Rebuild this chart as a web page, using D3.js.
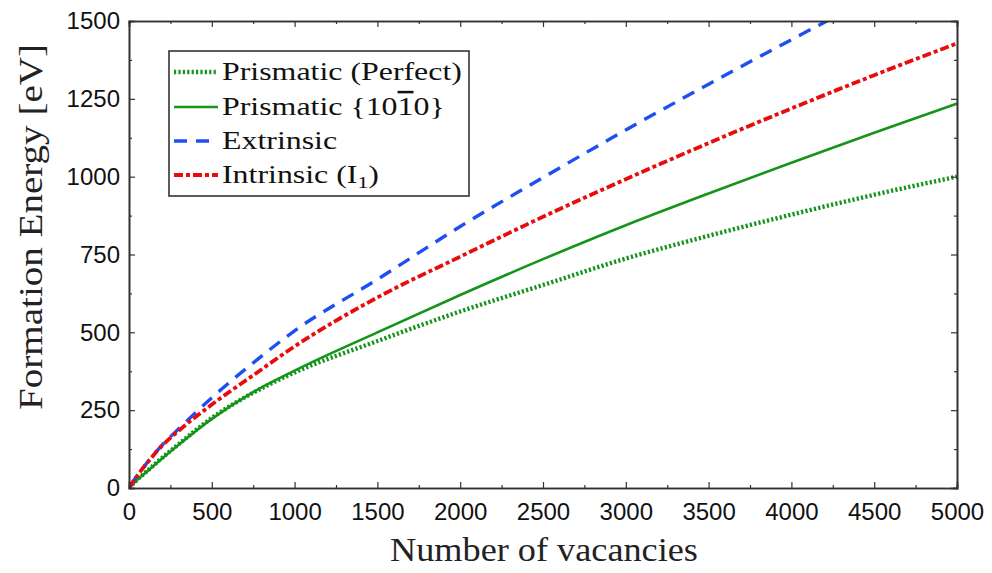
<!DOCTYPE html>
<html>
<head>
<meta charset="utf-8">
<script src="https://cdn.jsdelivr.net/npm/d3@7"></script>
<style>
  html, body { margin: 0; padding: 0; background: #fff; }
  svg { display: block; }
  .tick-label { font-family: "Liberation Sans", Arial, sans-serif; font-size: 24px; fill: #111; }
  .axis-title { font-family: "Liberation Serif", "DejaVu Serif", serif; font-size: 34px; fill: #222; }
  .legend-text { font-family: "Liberation Serif", "DejaVu Serif", serif; font-size: 25px; fill: #111; }
</style>
</head>
<body>
<svg id="chart" width="992" height="573"></svg>
<script>
// Number of vacancies sampled for every curve
const vacancies = [0, 50, 100, 200, 300, 500, 750, 1000, 1500, 2000, 2500, 3000, 3500, 4000, 4500, 5000];

// Formation energies [eV]
const prismaticPerfect = [0, 27, 50, 97, 141, 225, 306, 371, 472, 567, 652, 737, 810, 878, 942, 1000];
const prismatic1010    = [0, 26, 49, 95, 139, 222, 308, 377, 500, 620, 735, 844, 946, 1045, 1141, 1235];
const extrinsic        = [0, 40, 75, 138, 190, 290, 402, 505, 670, 840, 997, 1150, 1297, 1440, 1579, 1714];
const intrinsic        = [0, 40, 74, 136, 184, 268, 362, 455, 612, 743, 871, 992, 1108, 1219, 1326, 1428];

const xTicks = [0, 500, 1000, 1500, 2000, 2500, 3000, 3500, 4000, 4500, 5000];
const yTicks = [0, 250, 500, 750, 1000, 1250, 1500];
const xMinor = [250, 750, 1250, 1750, 2250, 2750, 3250, 3750, 4250, 4750];
const yMinor = [125, 375, 625, 875, 1125, 1375];

(function () {
  const svg = d3.select("#chart");
  const plotLeft = 129, plotRight = 957, plotTop = 21, plotBottom = 488;

  const x = d3.scaleLinear().domain([0, 5000]).range([plotLeft, plotRight]);
  const y = d3.scaleLinear().domain([0, 1500]).range([plotBottom, plotTop]);

  svg.append("defs").append("clipPath").attr("id", "plot-clip")
    .append("rect").attr("x", plotLeft).attr("y", plotTop)
    .attr("width", plotRight - plotLeft).attr("height", plotBottom - plotTop);

  const styles = [
    { values: prismaticPerfect, color: "#15941a", width: 4.4, dash: "2.2,2.2" },
    { values: prismatic1010,    color: "#15941a", width: 2.6, dash: null },
    { values: extrinsic,        color: "#1f4ff0", width: 3.4, dash: "13,9" },
    { values: intrinsic,        color: "#e80c0c", width: 3.8, dash: "9,3,4,3" }
  ];

  const line = d3.line()
    .x((d, i) => x(vacancies[i]))
    .y(d => y(d))
    .curve(d3.curveMonotoneX);

  const plot = svg.append("g").attr("clip-path", "url(#plot-clip)");
  styles.forEach(s => {
    plot.append("path")
      .datum(s.values)
      .attr("fill", "none")
      .attr("stroke", s.color)
      .attr("stroke-width", s.width)
      .attr("stroke-dasharray", s.dash)
      .attr("d", line);
  });

  // Axes: ticks pointing inward on all four sides, labels on bottom and left
  const axisColor = "#333";
  const bottomAxis = d3.axisBottom(x).tickValues(xTicks).tickSize(-6).tickPadding(15).tickFormat(d3.format("d"));
  const bottomMinor = d3.axisBottom(x).tickValues(xMinor).tickSize(-3).tickFormat("");
  const topAxis = d3.axisTop(x).tickValues(xTicks).tickSize(-6).tickFormat("");
  const topMinor = d3.axisTop(x).tickValues(xMinor).tickSize(-3).tickFormat("");
  const leftAxis = d3.axisLeft(y).tickValues(yTicks).tickSize(-6).tickPadding(9).tickFormat(d3.format("d"));
  const leftMinor = d3.axisLeft(y).tickValues(yMinor).tickSize(-3).tickFormat("");
  const rightAxis = d3.axisRight(y).tickValues(yTicks).tickSize(-6).tickFormat("");
  const rightMinor = d3.axisRight(y).tickValues(yMinor).tickSize(-3).tickFormat("");

  function drawAxis(gen, tx, ty) {
    const g = svg.append("g").attr("transform", `translate(${tx},${ty})`).call(gen);
    g.attr("font-family", null).attr("font-size", null);
    g.select(".domain").attr("stroke", axisColor).attr("stroke-width", 1.6);
    g.selectAll(".tick line").attr("stroke", axisColor).attr("stroke-width", 1.2);
    g.selectAll(".tick text").attr("class", "tick-label").attr("fill", null);
    return g;
  }
  drawAxis(bottomMinor, 0, plotBottom);
  drawAxis(topMinor, 0, plotTop);
  drawAxis(leftMinor, plotLeft, 0);
  drawAxis(rightMinor, plotRight, 0);
  drawAxis(bottomAxis, 0, plotBottom);
  drawAxis(topAxis, 0, plotTop);
  drawAxis(leftAxis, plotLeft, 0);
  drawAxis(rightAxis, plotRight, 0);

  // Stretch a text horizontally (in its own frame) to a target length
  function fitWidth(sel, target) {
    const w = sel.node().getComputedTextLength();
    return w > 0 ? target / w : 1;
  }

  // Axis titles
  const xTitle = svg.append("g");
  const xt = xTitle.append("text").attr("class", "axis-title")
    .attr("text-anchor", "middle")
    .text("Number of vacancies");
  xTitle.attr("transform", `translate(544,561) scale(${fitWidth(xt, 308)},1)`);

  const yTitle = svg.append("g");
  const yt = yTitle.append("text").attr("class", "axis-title")
    .attr("text-anchor", "middle")
    .text("Formation Energy [eV]");
  yTitle.attr("transform", `translate(42,227) rotate(-90) scale(${fitWidth(yt, 366)},1)`);

  // Legend
  const legend = svg.append("g");
  legend.append("rect")
    .attr("x", 169).attr("y", 51).attr("width", 300).attr("height", 145)
    .attr("fill", "#fff").attr("stroke", "#333").attr("stroke-width", 1.6);

  const rowY = [72, 107, 141, 175];
  styles.forEach((s, i) => {
    legend.append("line")
      .attr("x1", 174).attr("x2", 218)
      .attr("y1", rowY[i]).attr("y2", rowY[i])
      .attr("stroke", s.color)
      .attr("stroke-width", s.width)
      .attr("stroke-dasharray", s.dash);
  });

  const labels = rowY.map(() => legend.append("g"));
  const t0 = labels[0].append("text").attr("class", "legend-text").attr("dy", "0.33em")
    .text("Prismatic (Perfect)");
  const t1 = labels[1].append("text").attr("class", "legend-text").attr("dy", "0.33em");
  t1.append("tspan").text("Prismatic {10");
  t1.append("tspan").attr("text-decoration", "overline").text("1");
  t1.append("tspan").text("0}");
  labels[2].append("text").attr("class", "legend-text").attr("dy", "0.33em").text("Extrinsic");
  const t3 = labels[3].append("text").attr("class", "legend-text").attr("dy", "0.33em");
  t3.append("tspan").text("Intrinsic (I");
  t3.append("tspan").attr("font-size", "17px").attr("dy", "5").text("1");
  t3.append("tspan").attr("dy", "-5").text(")");

  const sx = fitWidth(t0, 240);
  labels.forEach((g, i) => g.attr("transform", `translate(222,${rowY[i]}) scale(${sx},1)`));
})();
</script>
</body>
</html>
